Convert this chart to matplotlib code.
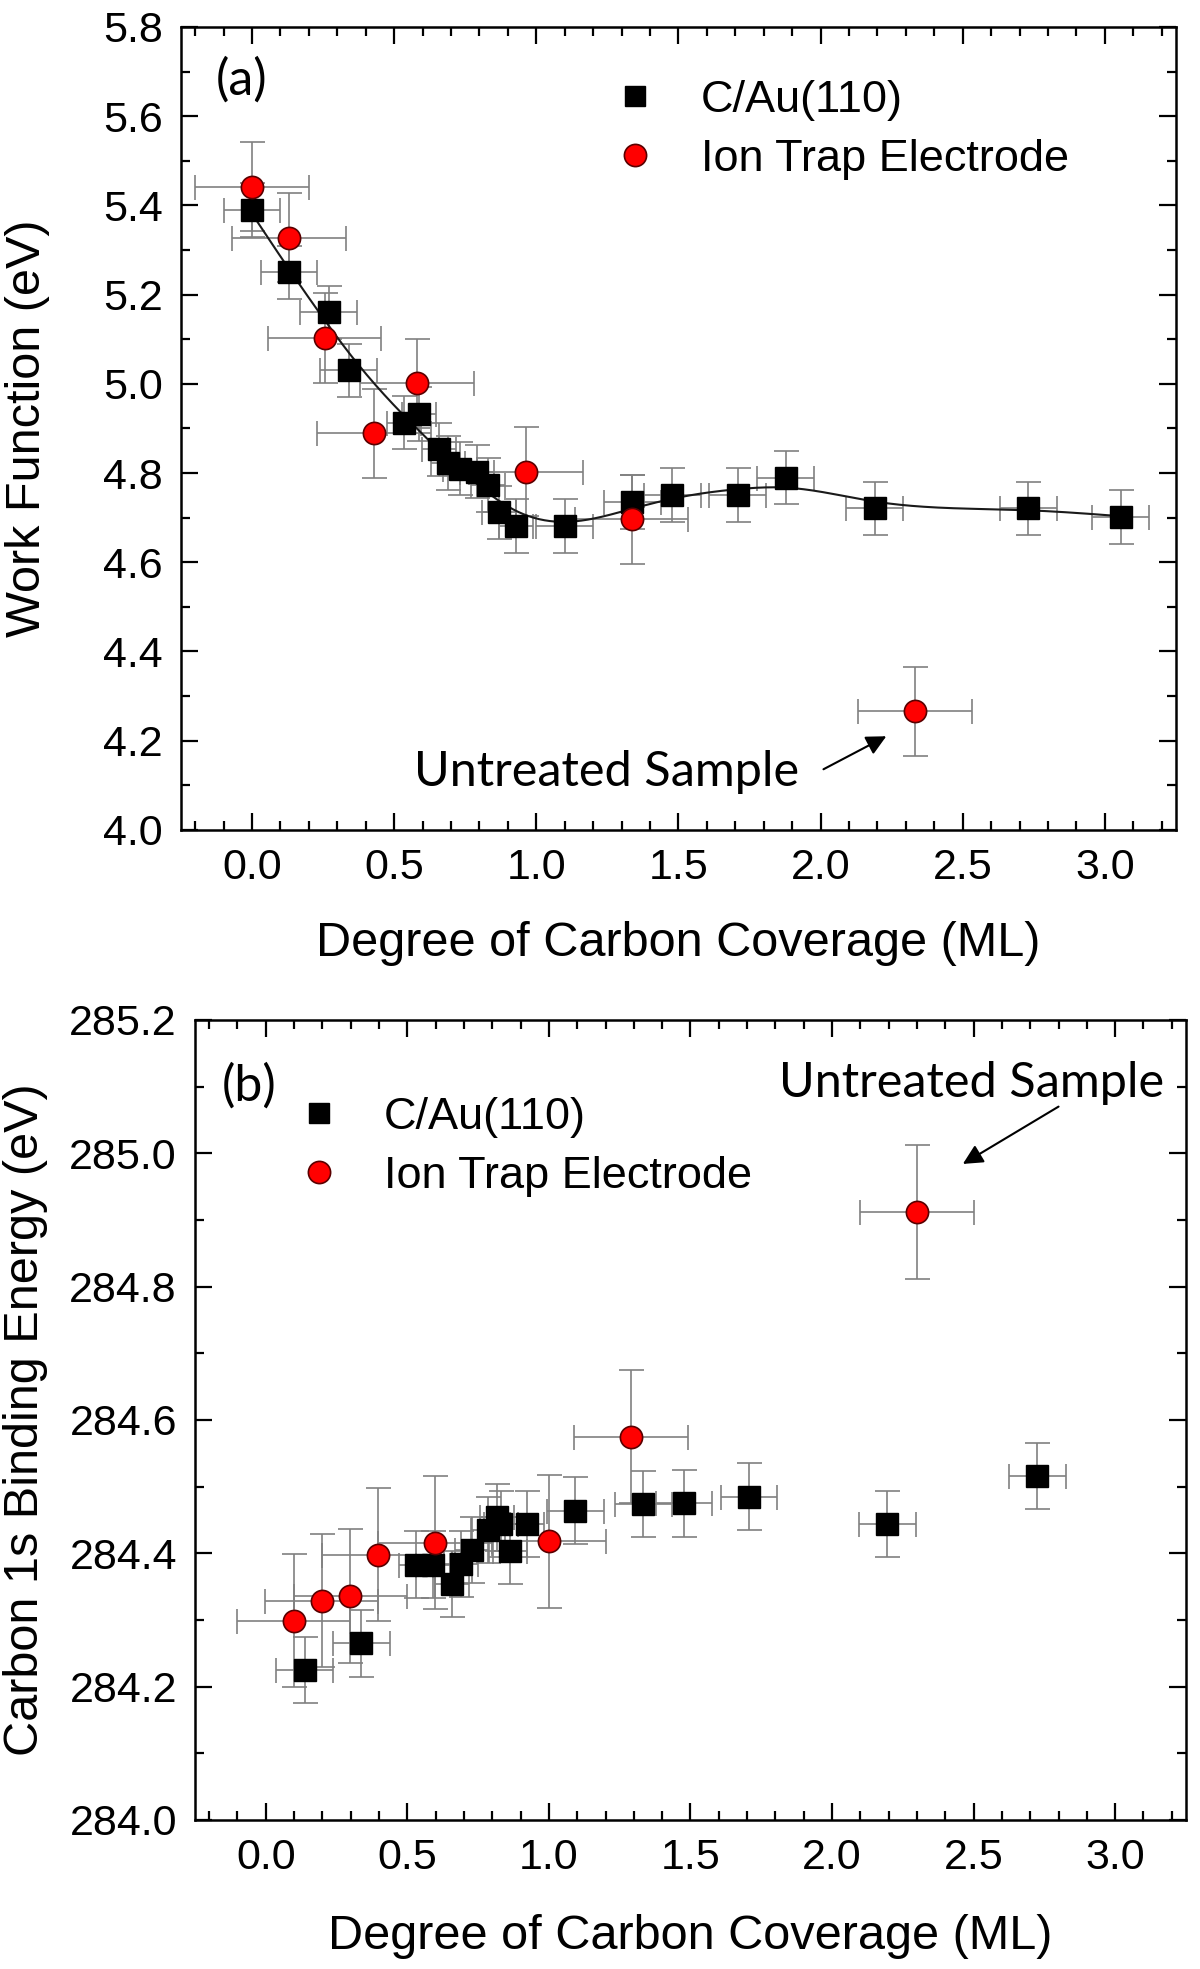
import numpy as np
import matplotlib
matplotlib.use('Agg')
import matplotlib.pyplot as plt
from matplotlib.ticker import MultipleLocator, FormatStrFormatter
from matplotlib.lines import Line2D

# ---- panel (a): work function ----
au_x_a = [0.0, 0.13, 0.27, 0.34, 0.535, 0.587, 0.657, 0.689, 0.73, 0.79, 0.83,
          0.868, 0.93, 1.10, 1.337, 1.478, 1.708, 1.877, 2.19, 2.73, 3.055]
au_y_a = [5.39, 5.25, 5.16, 5.03, 4.913, 4.932, 4.853, 4.822, 4.81, 4.803, 4.773,
          4.712, 4.681, 4.681, 4.735, 4.751, 4.751, 4.79, 4.721, 4.721, 4.702]
au_xerr_a = [0.1, 0.1, 0.1, 0.1, 0.06, 0.06, 0.06, 0.06, 0.06, 0.06, 0.06,
             0.06, 0.06, 0.1, 0.1, 0.1, 0.1, 0.1, 0.1, 0.1, 0.1]
au_yerr_a = 0.06

trap_x_a = [0.0, 0.13, 0.255, 0.428, 0.58, 0.964, 1.335, 2.332]
trap_y_a = [5.442, 5.328, 5.103, 4.889, 5.001, 4.803, 4.696, 4.266]
trap_xerr = 0.2
trap_yerr = 0.1

# ---- panel (b): C 1s binding energy ----
au_x_b = [0.137, 0.338, 0.53, 0.592, 0.659, 0.69, 0.728, 0.785, 0.815, 0.832,
          0.863, 0.923, 1.093, 1.334, 1.477, 1.707, 2.195, 2.725]
au_y_b = [284.225, 284.265, 284.383, 284.383, 284.354, 284.384, 284.405, 284.435,
          284.454, 284.444, 284.404, 284.444, 284.464, 284.474, 284.475, 284.485,
          284.444, 284.516]
au_xerr_b = [0.1, 0.1, 0.06, 0.06, 0.06, 0.06, 0.06, 0.06, 0.06, 0.06,
             0.06, 0.06, 0.1, 0.1, 0.1, 0.1, 0.1, 0.1]
au_yerr_b = 0.05

trap_x_b = [0.099, 0.198, 0.298, 0.398, 0.598, 1.0, 1.29, 2.30]
trap_y_b = [284.299, 284.329, 284.336, 284.398, 284.416, 284.418, 284.575, 284.912]

x_ticks = [0.0, 0.5, 1.0, 1.5, 2.0, 2.5, 3.0]

plt.rcParams['font.family'] = ['Liberation Sans', 'DejaVu Sans']
ann_font = 'Lato'
err_color = '#808080'


def smooth_line(xs, ys, lam_ss=3e-3, n=500):
    # penalised (second difference) smoothing curve through the C/Au(110) points
    xs = np.asarray(xs, float)
    ys = np.asarray(ys, float)
    grid = np.linspace(xs.min(), xs.max(), n)
    dx = grid[1] - grid[0]
    B = np.zeros((len(xs), n))
    for i, x in enumerate(xs):
        j = min(int((x - grid[0]) / dx), n - 2)
        t = (x - grid[j]) / dx
        B[i, j] = 1 - t
        B[i, j + 1] = t
    D = np.diff(np.eye(n), 2, axis=0)
    lam = lam_ss / dx ** 3
    f = np.linalg.solve(B.T @ B + lam * D.T @ D, B.T @ ys)
    return grid, f


def style_axes(ax, ylim, ymajor, yfmt):
    ax.set_xlim(-0.25, 3.25)
    ax.set_ylim(*ylim)
    ax.set_xticks(x_ticks)
    ax.xaxis.set_minor_locator(MultipleLocator(0.1))
    ax.yaxis.set_major_locator(MultipleLocator(ymajor))
    ax.yaxis.set_minor_locator(MultipleLocator(ymajor / 2))
    ax.yaxis.set_major_formatter(FormatStrFormatter(yfmt))
    ax.xaxis.set_major_formatter(FormatStrFormatter('%.1f'))
    ax.tick_params(which='both', direction='in', top=True, right=True,
                   width=1.6, labelsize=31, pad=13)
    ax.tick_params(which='major', length=12)
    ax.tick_params(which='minor', length=6.5)
    for s in ax.spines.values():
        s.set_linewidth(1.8)


def draw_points(ax, ax_x, ax_y, ax_xe, ax_ye, tx, ty):
    ax.errorbar(ax_x, ax_y, xerr=ax_xe, yerr=ax_ye, fmt='none', ecolor=err_color,
                elinewidth=1.2, capsize=9, capthick=1.2, zorder=2)
    ax.errorbar(tx, ty, xerr=trap_xerr, yerr=trap_yerr, fmt='none', ecolor=err_color,
                elinewidth=1.2, capsize=9, capthick=1.2, zorder=2)
    ax.plot(ax_x, ax_y, ls='none', marker='s', ms=15.5, color='black',
            mec='black', zorder=4)
    ax.plot(tx, ty, ls='none', marker='o', ms=16, mfc='#ff0000',
            mec='#5a0000', mew=1.2, zorder=5)


def add_legend(ax, anchor):
    handles = [Line2D([], [], ls='none', marker='s', ms=15, color='black'),
               Line2D([], [], ls='none', marker='o', ms=16, mfc='#ff0000',
                      mec='#5a0000', mew=1.2)]
    ax.legend(handles, ['C/Au(110)', 'Ion Trap Electrode'], loc='upper left',
              bbox_to_anchor=anchor, frameon=False, fontsize=32.5,
              handlelength=1.0, handletextpad=0.95, labelspacing=0.4,
              borderpad=0, borderaxespad=0)


fig = plt.figure(figsize=(12, 19.69), dpi=100)
ax1 = fig.add_axes([0.1508, 0.5785, 0.8292, 0.4078])
ax2 = fig.add_axes([0.1625, 0.0757, 0.8258, 0.4063])

arrow_kw = dict(arrowstyle='-|>', color='black', lw=1.5, mutation_scale=30,
                shrinkA=0, shrinkB=0)

# (a)
gx, gy = smooth_line(au_x_a, au_y_a)
ax1.plot(gx, gy, color='#1a1a1a', lw=1.5, zorder=3)
draw_points(ax1, au_x_a, au_y_a, au_xerr_a, au_yerr_a, trap_x_a, trap_y_a)
style_axes(ax1, (4.0, 5.8), 0.2, '%.1f')
ax1.set_xlabel('Degree of Carbon Coverage (ML)', fontsize=35)
ax1.set_ylabel('Work Function (eV)', fontsize=35)
ax1.xaxis.set_label_coords(0.5, -0.113)
ax1.yaxis.set_label_coords(-0.132, 0.5)
add_legend(ax1, (0.434, 0.934))
ax1.text(0.035, 0.934, '(a)', transform=ax1.transAxes, fontsize=36,
         family=ann_font, va='center', ha='left')
ax1.text(0.568, 4.13, 'Untreated Sample', fontsize=35, family=ann_font,
         va='center', ha='left')
ax1.annotate('', xy=(2.231, 4.21), xytext=(2.01, 4.136), arrowprops=arrow_kw)

# (b)
draw_points(ax2, au_x_b, au_y_b, au_xerr_b, au_yerr_b, trap_x_b, trap_y_b)
style_axes(ax2, (284.0, 285.2), 0.2, '%.1f')
ax2.set_xlabel('Degree of Carbon Coverage (ML)', fontsize=35)
ax2.set_ylabel('Carbon 1s Binding Energy (eV)', fontsize=35)
ax2.xaxis.set_label_coords(0.5, -0.117)
ax2.yaxis.set_label_coords(-0.148, 0.5)
add_legend(ax2, (0.102, 0.904))
ax2.text(0.027, 0.9175, '(b)', transform=ax2.transAxes, fontsize=36,
         family=ann_font, va='center', ha='left')
ax2.text(1.812, 285.105, 'Untreated Sample', fontsize=35, family=ann_font,
         va='center', ha='left')
ax2.annotate('', xy=(2.462, 284.984), xytext=(2.80, 285.07), arrowprops=arrow_kw)

fig.savefig('out.png', dpi=100)
